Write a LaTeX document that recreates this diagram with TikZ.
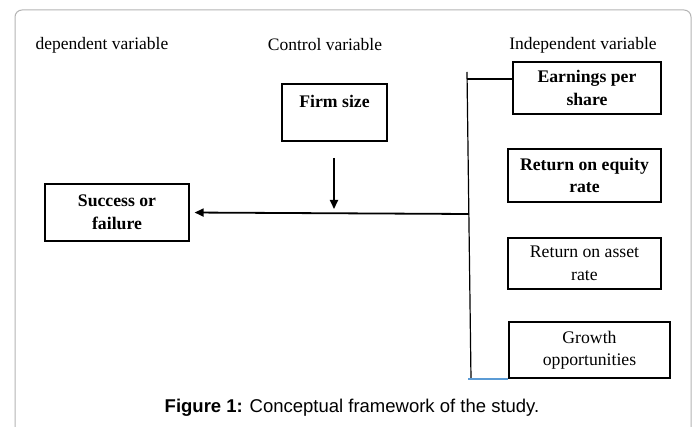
\documentclass[tikz,border=0pt]{standalone}
\usepackage{fontspec}
\setmainfont{Liberation Serif}
\newfontfamily\capfont{Liberation Sans}
\usetikzlibrary{arrows.meta}
\definecolor{framegray}{HTML}{B4B4B4}
\definecolor{lineblue}{HTML}{5B9BD5}
\begin{document}
\begin{tikzpicture}[x=1pt,y=-1pt,
  boxnode/.style={draw=black, line width=1.2pt, align=center, inner sep=0pt,
    font=\fontsize{17.7}{22.5}\selectfont},
  boldbox/.style={boxnode, font=\fontsize{17.7}{22.5}\selectfont\bfseries},
  header/.style={font=\fontsize{17.5}{22}\selectfont, inner sep=0pt},
  conn/.style={line width=1.8pt, -{Triangle[length=9pt,width=8pt]}},
  plainline/.style={line width=1.2pt}]
\useasboundingbox (0,0) rectangle (696,427);
\clip (0,0) rectangle (696,427);
\fill[white] (0,0) rectangle (696,427);
\draw[framegray, line width=1pt, rounded corners=7pt] (15,460) -- (15,10) -- (691,10) -- (691,460);

% headers
\node[header] (dep) at (102,45) {dependent variable};
\node[header] (ctrl) at (325,45) {Control variable};
\node[header] (indep) at (583,45) {Independent variable};

% boxes
\node[boldbox, minimum width=144pt, minimum height=57pt] (succ) at (117,212.5) {Success or\\failure};
\node[boldbox, minimum width=105pt, minimum height=57pt] (firm) at (334.5,112.5) {Firm size\\\mbox{}};
\node[boldbox, minimum width=148pt, minimum height=52pt] (eps) at (587,88) {Earnings per\\share};
\node[boldbox, minimum width=153pt, minimum height=53pt] (roe) at (584.5,175.5) {Return on equity\\rate};
\node[boxnode, minimum width=153pt, minimum height=51pt] (roa) at (584.5,263.5) {Return on asset\\rate};
\node[boxnode, minimum width=161pt, minimum height=56pt] (grow) at (589.5,350) {Growth\\opportunities};

% vertical bracket line
\coordinate (vtop) at (467,72);
\coordinate (vbot) at (471,379);
\coordinate (vtick) at (467,79);
\coordinate (vmid) at (469,214);
\coordinate (vfoot) at (468,379);
\coordinate (dtop) at (334,158);
\coordinate (dbot) at (334,209);
\draw[plainline] (vtop) -- (vbot);
\draw[plainline] (vtick) -- (vtick -| eps.west);
\draw[lineblue, line width=1.2pt] (vfoot) -- (vfoot -| grow.west);

% arrows
\draw[conn, shorten >=5pt] (vmid) -- (succ.east);
\draw[conn] (dtop) -- (dbot);

% caption
\node[font=\capfont\fontsize{18.5}{22}\selectfont, inner sep=0pt] (cap) at (352,408)
  {\textbf{Figure 1:} Conceptual framework of the study.};
\end{tikzpicture}
\end{document}
